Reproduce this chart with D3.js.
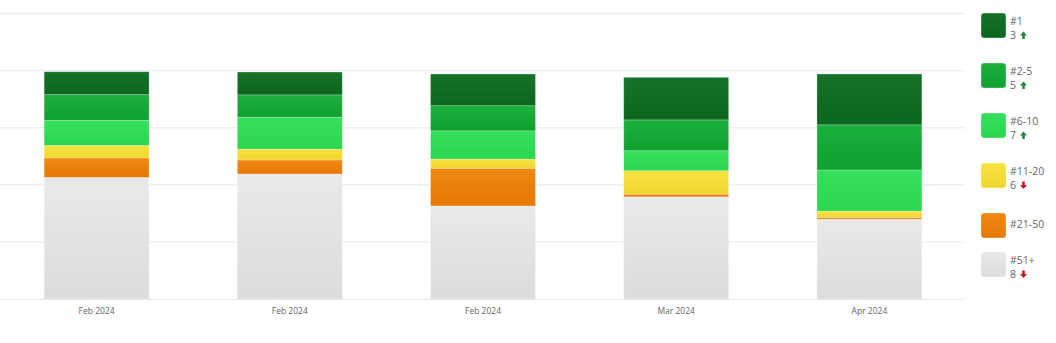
<!DOCTYPE html>
<html>
<head>
<meta charset="utf-8">
<script src="https://cdn.jsdelivr.net/npm/d3@7"></script>
<style>
  html, body { margin: 0; padding: 0; background: #fff; }
  svg { display: block; font-family: "Open Sans", "Noto Sans", sans-serif; }
</style>
</head>
<body>
<svg id="chart" width="1056" height="343"></svg>
<script>
// ---- data ----
const categories = ["Feb 2024", "Feb 2024", "Feb 2024", "Mar 2024", "Apr 2024"];
const seriesNames = ["#51+", "#21-50", "#11-20", "#6-10", "#2-5", "#1"];
const s51 = [21.3, 21.9, 16.3, 17.9, 14.0];
const s21_50 = [3.4, 2.45, 6.6, 0.47, 0.3];
const s11_20 = [2.2, 1.9, 1.6, 4.1, 1.1];
const s6_10 = [4.4, 5.6, 4.95, 3.5, 7.2];
const s2_5 = [4.5, 3.9, 4.4, 5.4, 7.9];
const s1 = [4.0, 4.0, 5.55, 7.45, 8.9];
const yTicks = [0, 10, 20, 30, 40, 50];
// legend entries (top to bottom): label, change value, direction
const legendLabels = ["#1", "#2-5", "#6-10", "#11-20", "#21-50", "#51+"];
const legendChanges = ["3", "5", "7", "6", "", "8"];
const legendDirs = ["up", "up", "up", "down", "", "down"];

const seriesValues = [s51, s21_50, s11_20, s6_10, s2_5, s1];
const colors = {
  "#51+":   ["#e9e9e9", "#dcdcdc"],
  "#21-50": ["#f08812", "#e57904"],
  "#11-20": ["#f7e340", "#f1d630"],
  "#6-10":  ["#35e05c", "#2bd650"],
  "#2-5":   ["#1bb03c", "#11a030"],
  "#1":     ["#177229", "#0b671d"]
};

const svg = d3.select("#chart");
const defs = svg.append("defs");
seriesNames.forEach((n, i) => {
  const g = defs.append("linearGradient").attr("id", "grad" + i)
    .attr("x1", 0).attr("y1", 0).attr("x2", 0).attr("y2", 1);
  g.append("stop").attr("offset", "0%").attr("stop-color", colors[n][0]);
  g.append("stop").attr("offset", "100%").attr("stop-color", colors[n][1]);
});

const table = categories.map((c, j) => {
  const row = { idx: j, cat: c };
  seriesNames.forEach((n, i) => row[n] = seriesValues[i][j]);
  return row;
});

const x = d3.scaleBand().domain(d3.range(categories.length)).range([0, 966])
  .paddingInner(0.457).paddingOuter(0.2285);
const y = d3.scaleLinear().domain([0, 50]).range([299, 13.5]);

// gridlines
svg.append("g").selectAll("line").data(yTicks.filter(t => t > 0)).join("line")
  .attr("x1", 0).attr("x2", 965)
  .attr("y1", d => y(d)).attr("y2", d => y(d))
  .attr("stroke", "#efefef").attr("stroke-width", 1.5);

// stacked bars
const stack = d3.stack().keys(seriesNames)(table);
svg.append("g").selectAll("g").data(stack).join("g")
  .attr("fill", (d, i) => `url(#grad${i})`)
  .selectAll("rect").data(d => d).join("rect")
  .attr("x", d => x(d.data.idx))
  .attr("width", x.bandwidth())
  .attr("y", d => y(d[1]))
  .attr("height", d => y(d[0]) - y(d[1]))
  .attr("stroke", "rgba(255,255,255,0.28)")
  .attr("stroke-width", 0.8);

// baseline
svg.append("line").attr("x1", 0).attr("x2", 965)
  .attr("y1", y(0) + 0.5).attr("y2", y(0) + 0.5)
  .attr("stroke", "#e2e7f0").attr("stroke-width", 1.2);

// x axis labels
const xAxis = d3.axisBottom(x).tickSize(0).tickFormat(i => categories[i]);
const gx = svg.append("g").attr("transform", `translate(0,${y(0)})`).call(xAxis);
gx.select(".domain").remove();
gx.selectAll("text").attr("dy", 0).attr("y", 15)
  .attr("font-size", 8.5).attr("fill", "#666")
  .attr("font-family", "'Open Sans', sans-serif");

// legend
const legendTops = [13, 63, 113, 163, 213, 252];
const lg = svg.append("g");
legendLabels.forEach((lab, k) => {
  const top = legendTops[k];
  const gi = seriesNames.indexOf(lab);
  lg.append("rect").attr("x", 981).attr("y", top).attr("width", 25).attr("height", 25)
    .attr("rx", 3).attr("fill", `url(#grad${gi})`)
    .attr("stroke", "rgba(255,255,255,0.35)").attr("stroke-width", 1);
  const hasChange = legendChanges[k] !== "";
  lg.append("text").attr("x", 1010).attr("y", top + (hasChange ? 12 : 15))
    .attr("font-size", 10.5).attr("fill", "#666").text(lab);
  if (hasChange) {
    lg.append("text").attr("x", 1010).attr("y", top + 26)
      .attr("font-size", 10.5).attr("fill", "#666").text(legendChanges[k]);
    const up = legendDirs[k] === "up";
    const ax = 1023.5, ay = top + 22.5;
    const path = up
      ? `M${ax},${ay-4} L${ax+3.5},${ay} L${ax+1.3},${ay} L${ax+1.3},${ay+3.5} L${ax-1.3},${ay+3.5} L${ax-1.3},${ay} L${ax-3.5},${ay} Z`
      : `M${ax},${ay+3.5} L${ax+3.5},${ay-0.5} L${ax+1.3},${ay-0.5} L${ax+1.3},${ay-4} L${ax-1.3},${ay-4} L${ax-1.3},${ay-0.5} L${ax-3.5},${ay-0.5} Z`;
    lg.append("path").attr("d", path).attr("fill", up ? "#1e8a3c" : "#c8161d");
  }
});
</script>
</body>
</html>
